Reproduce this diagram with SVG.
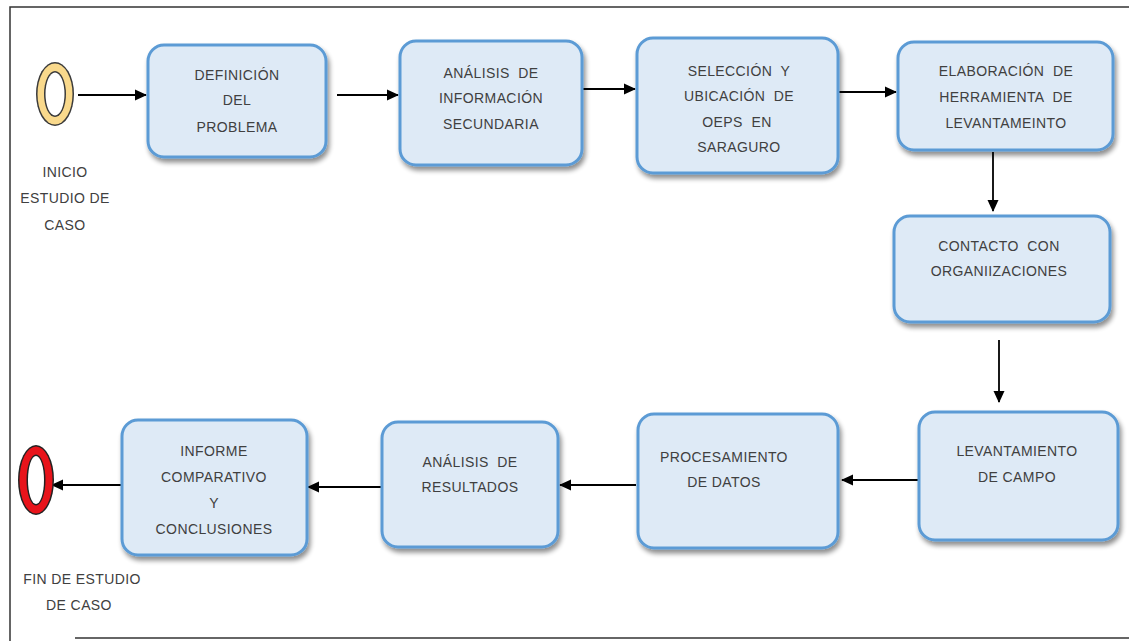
<svg xmlns="http://www.w3.org/2000/svg" width="1129" height="641" viewBox="0 0 1129 641">
<style>
.node{fill:#DEEAF6;stroke:#5B9BD5;stroke-width:3;filter:url(#sh)}
.t{font-family:"Liberation Sans",Arial,sans-serif;font-size:14px;letter-spacing:0.4px;fill:#404040;text-anchor:middle;white-space:pre}
.c{stroke:#000;stroke-width:1.8;fill:none;marker-end:url(#ah)}
.frame{stroke:#333;stroke-width:1.5;fill:none}
</style>
<defs>
<filter id="sh" x="-10%" y="-10%" width="125%" height="130%">
<feGaussianBlur in="SourceAlpha" stdDeviation="2.5"/>
<feOffset dx="2" dy="4" result="b"/>
<feComponentTransfer><feFuncA type="linear" slope="0.45"/></feComponentTransfer>
<feMerge><feMergeNode/><feMergeNode in="SourceGraphic"/></feMerge>
</filter>
<marker id="ah" markerWidth="12" markerHeight="12" refX="11" refY="6" orient="auto" markerUnits="userSpaceOnUse">
<path d="M0,0.5 L12,6 L0,11.5 z" fill="#000"/>
</marker>
</defs>
<rect width="1129" height="641" fill="#fff"/>
<g id="frame">
<path class="frame" d="M10,641 V7 H1129"/>
<path class="frame" d="M75,638 H1129" stroke="#555"/>
</g>
<g id="connectors">
<path class="c" d="M78,95 H146"/>
<path class="c" d="M337,95 H398"/>
<path class="c" d="M572,89 H635"/>
<path class="c" d="M838,92 H896"/>
<path class="c" d="M993,152 V211"/>
<path class="c" d="M999,340 V402"/>
<path class="c" d="M919,480 H842"/>
<path class="c" d="M636,485 H560"/>
<path class="c" d="M382,487 H308"/>
<path class="c" d="M122,485 H52"/>
</g>
<g id="inicio">
<ellipse cx="55" cy="94" rx="19" ry="32" fill="#3a3a3a"/>
<ellipse cx="55" cy="94" rx="17.5" ry="30.5" fill="#F9D98C"/>
<ellipse cx="55" cy="94" rx="11" ry="23" fill="#3a3a3a"/>
<ellipse cx="55" cy="94" rx="9.5" ry="21.5" fill="#fff"/>
<text class="t" x="65" y="177">INICIO</text>
<text class="t" x="65" y="203">ESTUDIO DE</text>
<text class="t" x="65" y="230">CASO</text>
</g>
<g id="fin">
<ellipse cx="36" cy="480" rx="18" ry="35" fill="#222"/>
<ellipse cx="36" cy="480" rx="16.5" ry="33.5" fill="#E8141B"/>
<ellipse cx="36" cy="480" rx="9.5" ry="25.5" fill="#222"/>
<ellipse cx="36" cy="480" rx="8" ry="24" fill="#fff"/>
<text class="t" x="82" y="584">FIN DE ESTUDIO</text>
<text class="t" x="79" y="610">DE CASO</text>
</g>
<g id="definicion">
<rect class="node" x="148" y="45" width="178" height="112" rx="16"/>
<text class="t" x="237" y="80">DEFINICIÓN</text>
<text class="t" x="237" y="105">DEL</text>
<text class="t" x="237" y="132">PROBLEMA</text>
</g>
<g id="analisis-info">
<rect class="node" x="400" y="41" width="182" height="124" rx="16"/>
<text class="t" x="491" y="78" xml:space="preserve">ANÁLISIS  DE</text>
<text class="t" x="491" y="103">INFORMACIÓN</text>
<text class="t" x="491" y="129">SECUNDARIA</text>
</g>
<g id="seleccion">
<rect class="node" x="637" y="38" width="201" height="135" rx="16"/>
<text class="t" x="739" y="76" xml:space="preserve">SELECCIÓN  Y</text>
<text class="t" x="739" y="101" xml:space="preserve">UBICACIÓN  DE</text>
<text class="t" x="737" y="127" xml:space="preserve">OEPS  EN</text>
<text class="t" x="739" y="152">SARAGURO</text>
</g>
<g id="elaboracion">
<rect class="node" x="898" y="42" width="215" height="108" rx="16"/>
<text class="t" x="1006" y="76" xml:space="preserve">ELABORACIÓN  DE</text>
<text class="t" x="1006" y="102" xml:space="preserve">HERRAMIENTA  DE</text>
<text class="t" x="1006" y="128">LEVANTAMEINTO</text>
</g>
<g id="contacto">
<rect class="node" x="894" y="216" width="216" height="106" rx="16"/>
<text class="t" x="999" y="251" xml:space="preserve">CONTACTO  CON</text>
<text class="t" x="999" y="276">ORGANIIZACIONES</text>
</g>
<g id="levantamiento">
<rect class="node" x="919" y="412" width="199" height="128" rx="16"/>
<text class="t" x="1017" y="456">LEVANTAMIENTO</text>
<text class="t" x="1017" y="482">DE CAMPO</text>
</g>
<g id="procesamiento">
<rect class="node" x="638" y="414" width="200" height="134" rx="16"/>
<text class="t" x="724" y="462">PROCESAMIENTO</text>
<text class="t" x="724" y="487">DE DATOS</text>
</g>
<g id="analisis-res">
<rect class="node" x="382" y="422" width="176" height="125" rx="16"/>
<text class="t" x="470" y="467" xml:space="preserve">ANÁLISIS  DE</text>
<text class="t" x="470" y="492">RESULTADOS</text>
</g>
<g id="informe">
<rect class="node" x="122" y="420" width="185" height="135" rx="16"/>
<text class="t" x="214" y="456">INFORME</text>
<text class="t" x="214" y="482">COMPARATIVO</text>
<text class="t" x="214" y="508">Y</text>
<text class="t" x="214" y="534">CONCLUSIONES</text>
</g>
</svg>
